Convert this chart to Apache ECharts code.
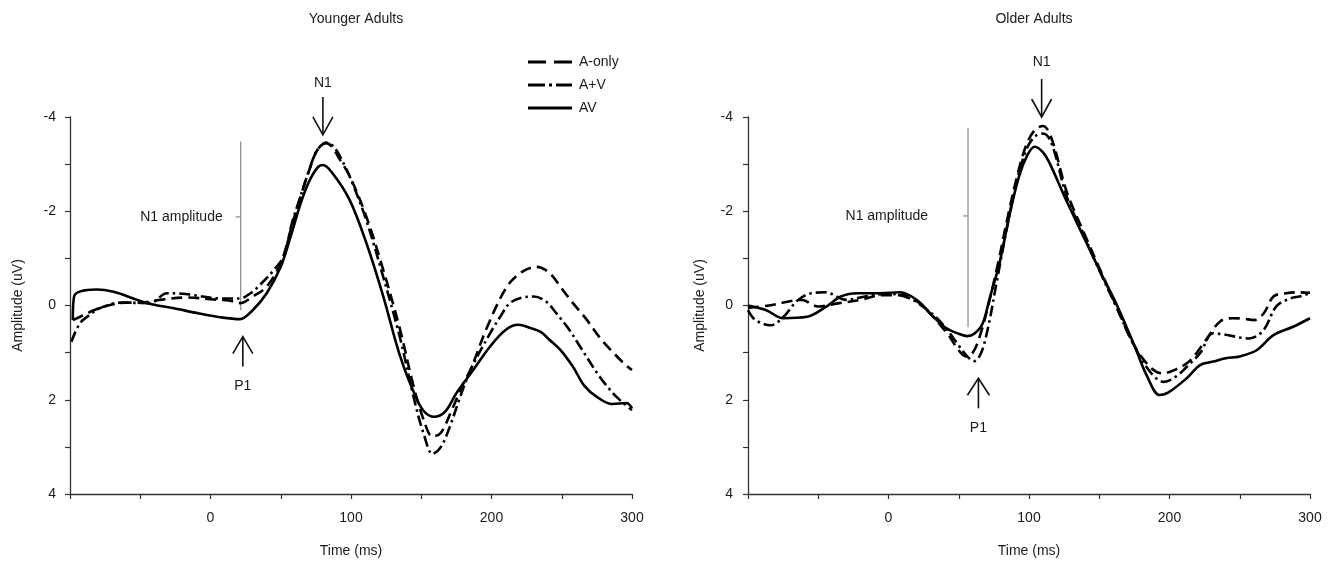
<!DOCTYPE html>
<html><head><meta charset="utf-8">
<script src="https://cdn.jsdelivr.net/npm/echarts@6/dist/echarts.min.js"></script>
<style>html,body{margin:0;padding:0;background:#fff}#c{width:1339px;height:569px}</style>
</head><body><div id="c"></div>
<script>
// ---------- DATA (time in ms, amplitude in uV) ----------
const panelTitles = ['Younger Adults', 'Older Adults'];
const seriesNames = ['A-only', 'A+V', 'AV'];
const xTickLabels = [0, 100, 200, 300];
const yTickLabels = [-4, -2, 0, 2, 4];

// Younger adults
const youngT_Aonly = [-98,-90,-83,-70,-60,-50,-36,-17,2,14,21,30,40,50,58,64,70,76,82,86,92,99,111,123,135,144,152,158,164,172,180,185,197,211,222,232,241,249,258,268,277,287,295,300];
const youngV_Aonly = [0.31,0.2,0.1,-0.02,-0.06,-0.06,-0.12,-0.17,-0.13,-0.1,-0.05,-0.19,-0.4,-0.9,-1.7,-2.3,-2.85,-3.3,-3.45,-3.38,-3.1,-2.75,-1.88,-0.75,0.52,1.65,2.45,2.78,2.7,2.2,1.65,1.37,0.45,-0.4,-0.72,-0.82,-0.7,-0.4,-0.05,0.31,0.68,1.01,1.25,1.37];
const youngT_AplusV = [-99,-93,-86,-79,-64,-43,-31,-20,-12,7,21,28,35,45,52,58,64,70,76,83,88,95,101,111,123,135,145,152,158,164,170,177,185,199,207,213,222,230,239,246,255,263,277,289,300];
const youngV_AplusV = [0.77,0.38,0.2,0.06,-0.06,-0.05,-0.26,-0.25,-0.22,-0.15,-0.15,-0.25,-0.43,-0.75,-1.04,-1.75,-2.31,-2.85,-3.3,-3.45,-3.36,-3.0,-2.6,-1.8,-0.6,0.7,2.0,2.75,3.15,3.0,2.6,2.0,1.37,0.59,0.2,-0.05,-0.17,-0.19,-0.08,0.16,0.5,0.87,1.51,1.94,2.22];
const youngT_AV = [-98,-97,-81,-69,-55,-45,-26,-8,7,21,30,40,50,57,64,70,76,80,87,99,111,123,135,147,153,159,167,175,187,199,210,219,228,235,241,249,258,266,275,286,296,300];
const youngV_AV = [0.31,-0.2,-0.34,-0.29,-0.15,-0.05,0.06,0.17,0.25,0.29,0.1,-0.26,-0.82,-1.46,-2.15,-2.62,-2.92,-2.98,-2.8,-2.24,-1.32,-0.19,1.08,2.0,2.28,2.36,2.25,1.86,1.37,0.87,0.52,0.41,0.48,0.56,0.72,0.94,1.3,1.7,1.94,2.09,2.07,2.18];

// Older adults
const olderT_Aonly = [-100,-85,-72,-62,-50,-35,-20,-5,10,22,32,42,50,55,60,65,71,78,85,92,98,104,110,116,127,139,150,162,174,186,195,205,215,226,236,245,253,260,267,274,283,292,300];
const olderV_Aonly = [0.05,0.0,-0.08,-0.12,0.02,-0.05,-0.12,-0.22,-0.22,-0.05,0.25,0.6,0.95,1.08,1.0,0.65,0.0,-0.9,-1.9,-2.8,-3.4,-3.72,-3.81,-3.55,-2.4,-1.55,-0.8,0.0,0.8,1.3,1.44,1.35,1.16,0.73,0.34,0.27,0.28,0.31,0.17,-0.19,-0.26,-0.28,-0.27];
const olderT_AplusV = [-100,-95,-84,-75,-65,-55,-45,-30,-15,0,15,30,40,50,56,61,66,71,77,84,91,98,104,110,116,127,139,150,162,174,186,196,205,214,222,231,240,250,257,267,276,286,294,300];
const olderV_AplusV = [0.1,0.3,0.42,0.25,-0.1,-0.26,-0.28,-0.12,-0.2,-0.25,-0.15,0.15,0.45,0.85,1.08,1.18,1.0,0.45,-0.5,-1.6,-2.6,-3.3,-3.58,-3.65,-3.45,-2.3,-1.5,-0.75,0.02,0.8,1.4,1.62,1.5,1.25,1.0,0.59,0.62,0.68,0.7,0.52,0.02,-0.15,-0.2,-0.27];
const olderT_AV = [-100,-87,-75,-58,-44,-34,-22,-6,8,20,32,41,50,56,61,67,72,79,86,93,99,104,110,115,127,139,151,163,175,184,193,199,212,222,231,240,250,262,274,288,300];
const olderV_AV = [0.0,0.1,0.27,0.24,0.02,-0.19,-0.26,-0.26,-0.28,-0.12,0.24,0.48,0.6,0.65,0.6,0.38,-0.15,-0.9,-1.9,-2.75,-3.2,-3.37,-3.25,-3.0,-2.2,-1.45,-0.7,0.02,0.85,1.5,1.9,1.85,1.55,1.26,1.19,1.12,1.08,0.95,0.63,0.45,0.27];

// ---------- CHART ----------
const FONT = "'Liberation Sans', Arial, sans-serif";
const TXT = '#1a1a1a';
const AX = '#333';
function pairs(t, v) { return t.map((x, i) => [x, v[i]]); }

const dashStyles = {
  'A-only': [11, 6],
  'A+V': [11, 4, 2.5, 4],
  'AV': 'solid'
};
const legendIcons = {
  'A-only': 'path://M0,0h18v3h-18zM26,0h18v3h-18z',
  'A+V': 'path://M0,0h17v3h-17zM21,0h3v3h-3zM28,0h16v3h-16z',
  'AV': 'path://M0,0h44v3h-44z'
};

function mkSeries(name, t, v, idx) {
  return {
    name, type: 'line', xAxisIndex: idx, yAxisIndex: idx,
    data: pairs(t, v), showSymbol: false, symbol: 'none',
    smooth: 0.35, animation: false,
    lineStyle: { color: '#000', width: 2.6, type: dashStyles[name], cap: 'butt' },
    itemStyle: { color: '#000' }
  };
}

function xAx(idx) {
  return {
    type: 'value', gridIndex: idx, min: -100, max: 300, interval: 50,
    position: 'bottom',
    axisLine: { onZero: false, lineStyle: { color: AX, width: 1.3 } },
    axisTick: { show: true, length: 5, lineStyle: { color: AX, width: 1.2 } },
    splitLine: { show: false },
    axisLabel: {
      margin: 17, fontSize: 14, color: TXT, fontFamily: FONT,
      formatter: v => (xTickLabels.indexOf(v) >= 0 ? String(v) : '')
    },
    name: 'Time (ms)', nameLocation: 'middle', nameGap: 50,
    nameTextStyle: { fontSize: 14, color: TXT, fontFamily: FONT }
  };
}
function yAx(idx, gap, margin) {
  return {
    type: 'value', gridIndex: idx, inverse: true, min: -4, max: 4, interval: 2,
    axisLine: { show: true, onZero: false, lineStyle: { color: AX, width: 1.3 } },
    axisTick: { show: true, length: 5, lineStyle: { color: AX, width: 1.2 } },
    minorTick: { show: true, splitNumber: 2, length: 5, lineStyle: { color: AX, width: 1.2 } },
    splitLine: { show: false },
    axisLabel: {
      margin: margin, fontSize: 14, color: TXT, fontFamily: FONT,
      formatter: v => (yTickLabels.indexOf(v) >= 0 ? String(v) : '')
    },
    name: 'Amplitude (uV)', nameLocation: 'middle', nameGap: gap,
    nameTextStyle: { fontSize: 14, color: TXT, fontFamily: FONT }
  };
}

const chart = echarts.init(document.getElementById('c'), null, { renderer: 'canvas' });
chart.setOption({
  animation: false,
  backgroundColor: '#fff',
  textStyle: { fontFamily: FONT },
  title: [
    { text: panelTitles[0], left: 351, top: 7, textAlign: 'center',
      textStyle: { fontSize: 14, fontWeight: 'normal', color: TXT, fontFamily: FONT } },
    { text: panelTitles[1], left: 1029, top: 7, textAlign: 'center',
      textStyle: { fontSize: 14, fontWeight: 'normal', color: TXT, fontFamily: FONT } }
  ],
  legend: {
    orient: 'vertical', left: 523, top: 50, itemWidth: 44, itemHeight: 3, itemGap: 9,
    textStyle: { fontSize: 14, color: TXT, fontFamily: FONT, padding: [0, 0, 0, 2] },
    itemStyle: { color: '#000', borderWidth: 0 },
    data: seriesNames.map(n => ({ name: n, icon: legendIcons[n] }))
  },
  grid: [
    { left: 70, top: 117, width: 562, height: 377 },
    { left: 748, top: 117, width: 562, height: 377 }
  ],
  xAxis: [xAx(0), xAx(1)],
  yAxis: [yAx(0, 45, 14), yAx(1, 41, 15)],
  series: [
    mkSeries('A-only', youngT_Aonly, youngV_Aonly, 0),
    mkSeries('A+V', youngT_AplusV, youngV_AplusV, 0),
    mkSeries('AV', youngT_AV, youngV_AV, 0),
    mkSeries('A-only', olderT_Aonly, olderV_Aonly, 1),
    mkSeries('A+V', olderT_AplusV, olderV_AplusV, 1),
    mkSeries('AV', olderT_AV, olderV_AV, 1)
  ]
});

// ---------- ANNOTATIONS (anchored through the axes) ----------
function px(idx, t, v) { return chart.convertToPixel({ xAxisIndex: idx, yAxisIndex: idx }, [t, v]); }
const G = [];
function line(x1, y1, x2, y2, color, w) {
  G.push({ type: 'line', shape: { x1, y1, x2, y2 }, style: { stroke: color, lineWidth: w }, silent: true });
}
function text(x, y, s, align) {
  G.push({ type: 'text', x, y, style: { text: s, fontSize: 14, fontFamily: FONT, fill: TXT, align: align, verticalAlign: 'middle' }, silent: true });
}
function arrow(p, dir, len, headLen, headW) {
  // dir = +1 points down (tip at p), -1 points up
  const [x, y] = p;
  line(x, y - dir * len, x, y, '#111', 1.6);
  G.push({ type: 'polyline', shape: { points: [[x - headW, y - dir * headLen], [x, y], [x + headW, y - dir * headLen]] },
    style: { stroke: '#111', lineWidth: 1.6, fill: null }, silent: true });
}
function n1Amplitude(idx, t, vTop, vBot, vTick, textGap) {
  const a = px(idx, t, vTop), b = px(idx, t, vBot), c = px(idx, t, vTick);
  line(a[0], a[1], b[0], b[1], '#8a8a8a', 1.2);
  line(c[0] - 5, c[1], c[0], c[1], '#8a8a8a', 1.2);
  text(c[0] - textGap, c[1], 'N1 amplitude', 'right');
}
// Younger
n1Amplitude(0, 21.5, -3.48, 0.1, -1.88, 18);
{ const p = px(0, 80, -3.62); arrow(p, 1, 38, 18, 10); text(p[0], p[1] - 52, 'N1', 'center'); }
{ const p = px(0, 23, 0.66); arrow(p, -1, 30, 17, 10); text(p[0], p[1] + 50, 'P1', 'center'); }
// Older
n1Amplitude(1, 56.6, -3.77, 0.46, -1.9, 40);
{ const p = px(1, 109, -4.0); arrow(p, 1, 38, 18, 10); text(p[0], p[1] - 55, 'N1', 'center'); }
{ const p = px(1, 64, 1.545); arrow(p, -1, 30, 17, 11); text(p[0], p[1] + 50, 'P1', 'center'); }

chart.setOption({ graphic: G });
</script>
</body></html>
